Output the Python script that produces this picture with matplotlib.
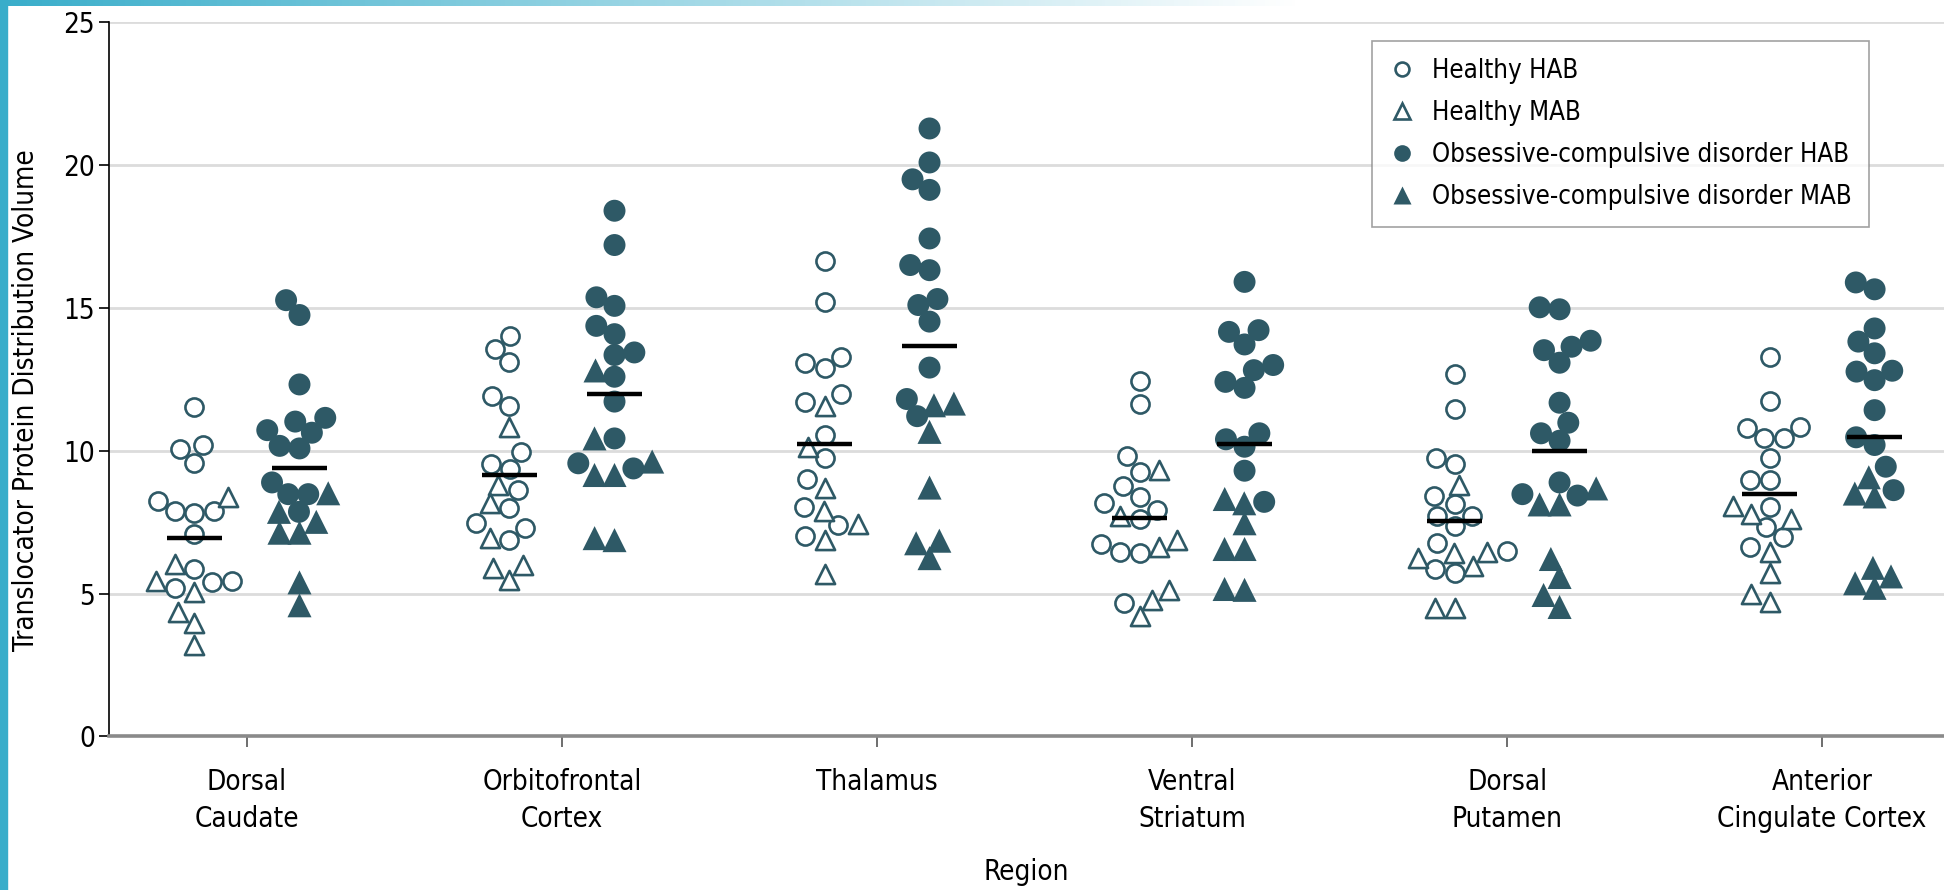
import numpy as np
import matplotlib
matplotlib.use("Agg")
import matplotlib.pyplot as plt
from matplotlib.lines import Line2D
from matplotlib.patches import Rectangle

plt.rcParams['font.family'] = ['DejaVu Sans']
plt.rcParams['font.stretch'] = 'condensed'

regions = ["Dorsal\nCaudate", "Orbitofrontal\nCortex", "Thalamus",
           "Ventral\nStriatum", "Dorsal\nPutamen", "Anterior\nCingulate Cortex"]

# translocator protein VT per region
healthy_hab = [
    [11.52, 10.06, 10.21, 9.58, 8.25, 7.88, 7.81, 7.88, 7.08, 5.86, 5.45, 5.39, 5.21],
    [14.02, 13.56, 13.09, 11.92, 11.57, 9.94, 9.53, 9.36, 8.62, 7.98, 7.46, 7.31, 6.87],
    [16.65, 15.20, 13.29, 13.06, 12.90, 11.98, 11.71, 10.55, 9.76, 9.01, 8.02, 7.40, 7.01],
    [12.45, 11.64, 9.81, 9.26, 8.76, 8.39, 8.16, 7.92, 7.60, 6.73, 6.41, 6.44, 4.66],
    [12.67, 11.45, 9.76, 9.54, 8.41, 8.12, 7.72, 7.72, 7.37, 6.78, 6.50, 5.86, 5.71],
    [13.27, 11.75, 10.80, 10.84, 10.45, 10.43, 9.76, 8.97, 8.97, 8.04, 7.32, 6.97, 6.62],
]
healthy_mab = [
    [8.38, 6.05, 5.45, 5.05, 4.37, 3.96, 3.20],
    [10.84, 8.80, 8.16, 6.94, 6.00, 5.88, 5.47],
    [11.57, 10.14, 8.68, 7.90, 7.43, 6.88, 5.68],
    [9.32, 7.72, 6.62, 6.87, 5.12, 4.77, 4.21],
    [8.80, 6.23, 6.41, 5.97, 6.47, 4.48, 4.48],
    [8.06, 7.80, 7.61, 6.46, 5.73, 5.00, 4.71],
]
ocd_hab = [
    [15.27, 14.75, 12.32, 11.15, 11.02, 10.72, 10.63, 10.17, 10.08, 8.89, 8.48, 8.48, 7.86],
    [18.40, 17.20, 15.37, 15.07, 14.37, 14.08, 13.44, 13.35, 12.59, 11.72, 10.43, 9.56, 9.38],
    [21.28, 20.09, 19.50, 19.13, 17.43, 16.50, 16.32, 15.31, 15.10, 14.52, 12.91, 11.81, 11.21],
    [15.91, 14.22, 14.16, 13.72, 13.00, 12.82, 12.41, 12.20, 10.61, 10.40, 10.14, 9.30, 8.21],
    [15.02, 14.95, 13.85, 13.64, 13.52, 13.08, 11.68, 10.98, 10.61, 10.35, 8.89, 8.48, 8.43],
    [15.89, 15.65, 14.28, 13.82, 13.41, 12.80, 12.77, 12.47, 11.42, 10.47, 10.20, 9.44, 8.62],
]
ocd_mab = [
    [8.51, 7.86, 7.51, 7.13, 7.13, 5.39, 4.59],
    [12.81, 10.43, 9.62, 9.15, 9.15, 6.94, 6.87],
    [11.65, 11.59, 10.66, 8.71, 6.85, 6.76, 6.24],
    [8.31, 8.16, 7.46, 6.56, 6.56, 5.16, 5.13],
    [8.68, 8.12, 8.12, 6.21, 5.58, 4.95, 4.53],
    [9.07, 8.50, 8.40, 5.90, 5.60, 5.36, 5.20],
]

COLOR = '#2e5966'
W, H = 1944, 890
AX_L, AX_R, AX_T, AX_B = 109, 1944, 22.2, 736.4
XMIN, XMAX = -0.438, 5.387
YMAX = 25
GROUP_OFF = 1 / 6.
SWARM_D = 20  # px between marker centres (markers may touch/overlap a little)


def swarm(vals_px, d):
    """Beeswarm offsets (px): place points bottom-up as close to the centre as possible."""
    order = np.argsort(vals_px, kind='stable')
    placed = []
    xs = np.zeros(len(vals_px))
    for i in order:
        y = vals_px[i]
        cands = [0.0]
        for px, py in placed:
            dy = y - py
            if abs(dy) < d:
                dx = np.sqrt(d * d - dy * dy)
                cands += [px - dx, px + dx]
        cands.sort(key=lambda c: (abs(c), c))
        for c in cands:
            if all((c - px) ** 2 + (y - py) ** 2 >= d * d - 1e-6 for px, py in placed):
                xs[i] = c
                placed.append((c, y))
                break
    return xs


fig = plt.figure(figsize=(W / 100, H / 100), dpi=100)
ax = fig.add_axes([AX_L / W, (H - AX_B) / H, (AX_R - AX_L) / W, (AX_B - AX_T) / H])
ax.set_xlim(XMIN, XMAX)
ax.set_ylim(0, YMAX)

x_ppu = (AX_R - AX_L) / (XMAX - XMIN)
y_ppu = (AX_B - AX_T) / YMAX

styles = {
    'h_hab': dict(marker='o', s=170, facecolors='white', edgecolors=COLOR, linewidths=1.9),
    'h_mab': dict(marker='^', s=190, facecolors='white', edgecolors=COLOR, linewidths=1.9),
    'o_hab': dict(marker='o', s=250, facecolors=COLOR, edgecolors='none'),
    'o_mab': dict(marker='^', s=300, facecolors=COLOR, edgecolors='none'),
}

for i in range(len(regions)):
    for side, hab, mab, kh, km in [(-1, healthy_hab[i], healthy_mab[i], 'h_hab', 'h_mab'),
                                   (1, ocd_hab[i], ocd_mab[i], 'o_hab', 'o_mab')]:
        vals = np.array(hab + mab)
        offs = swarm(vals * y_ppu, SWARM_D) / x_ppu
        xc = i + side * GROUP_OFF
        n = len(hab)
        ax.scatter(xc + offs[:n], vals[:n], zorder=3, **styles[kh])
        ax.scatter(xc + offs[n:], vals[n:], zorder=3, **styles[km])
        ax.hlines(vals.mean(), xc - 0.087, xc + 0.087, color='black', lw=3.2, zorder=4)

ax.set_xticks(range(len(regions)))
ax.set_xticklabels(regions, fontsize=20, linespacing=1.4)
ax.set_yticks(range(0, 26, 5))
ax.tick_params(axis='y', labelsize=20, length=7, width=1.2, pad=3)
ax.tick_params(axis='x', length=8, width=1.2, color='#555555', pad=15)

ax.grid(axis='y', color='#dcdcdc', lw=2)
ax.set_axisbelow(True)
for s in ['top', 'right']:
    ax.spines[s].set_visible(False)
ax.spines['left'].set_linewidth(1.2)
ax.spines['bottom'].set_color('#8a8a8a')
ax.spines['bottom'].set_linewidth(2.6)

ax.set_xlabel("Region", fontsize=20, labelpad=18)
ax.set_ylabel("Translocator Protein Distribution Volume", fontsize=20, va='center')
ax.yaxis.set_label_coords((26 - AX_L) / (AX_R - AX_L), (AX_B - 400) / (AX_B - AX_T))

handles = [
    Line2D([], [], ls='none', marker='o', ms=10, mfc='white', mec=COLOR, mew=1.9),
    Line2D([], [], ls='none', marker='^', ms=11, mfc='white', mec=COLOR, mew=1.9),
    Line2D([], [], ls='none', marker='o', ms=12, mfc=COLOR, mec='none'),
    Line2D([], [], ls='none', marker='^', ms=13, mfc=COLOR, mec='none'),
]
labels = ["Healthy HAB", "Healthy MAB",
          "Obsessive-compulsive disorder HAB", "Obsessive-compulsive disorder MAB"]
leg = fig.legend(handles, labels, loc='upper left',
                 bbox_to_anchor=(1372 / W, 1 - 41 / H), borderaxespad=0,
                 fontsize=18.5, frameon=True, fancybox=False, handlelength=1.0,
                 handletextpad=0.7, labelspacing=0.63, borderpad=0.65)
leg.get_frame().set_edgecolor('#8a8a8a')
leg.get_frame().set_linewidth(1.2)

# page decoration: cyan side bar and fading top bar
fig.patches.append(Rectangle((0, 0), 7 / W, 1, transform=fig.transFigure,
                             color='#38adca', zorder=0))
bar = fig.add_axes([0, 1 - 6 / H, 1, 6 / H])
grad = np.linspace(0, 1, 512)
rgba = np.zeros((1, 512, 4))
rgba[..., :3] = np.array([0x38, 0xad, 0xca]) / 255.
rgba[..., 3] = np.clip(1 - grad * W / 1300, 0, 1)
bar.imshow(rgba, aspect='auto', extent=[0, 1, 0, 1])
bar.axis('off')

fig.savefig('out.png', dpi=100)
